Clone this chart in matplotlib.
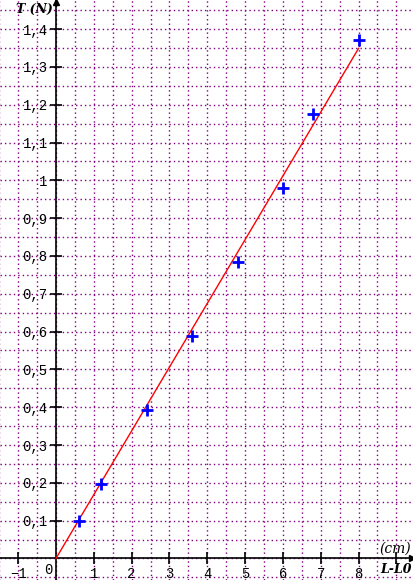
import matplotlib
matplotlib.use("Agg")
import matplotlib.pyplot as plt
import numpy as np

# mesures : allongement (cm) et tension (N)
allongement = [0.6, 1.2, 2.4, 3.6, 4.8, 6.0, 6.8, 8.0]
tension = [0.10, 0.197, 0.392, 0.588, 0.784, 0.98, 1.175, 1.372]

# droite de modélisation
droite_x = [0, 8]
droite_y = [0, 1.349]

xticks = [-1, 1, 2, 3, 4, 5, 6, 7, 8, 9]
xtick_labels = ["\u22121", "1", "2", "3", "4", "5", "6", "7", "8", ""]
yticks = [0.1, 0.2, 0.3, 0.4, 0.5, 0.6, 0.7, 0.8, 0.9, 1.0, 1.1, 1.2, 1.3, 1.4]
ytick_labels = ["0,1", "0,2", "0,3", "0,4", "0,5", "0,6", "0,7", "0,8", "0,9",
                "1", "1,1", "1,2", "1,3", "1,4"]

XMIN, XMAX = -1.48, 9.44
YMIN, YMAX = -0.057, 1.477

fig = plt.figure(figsize=(4.13, 5.80), dpi=100)
ax = fig.add_axes([0, 0, 1, 1])
ax.set_xlim(XMIN, XMAX)
ax.set_ylim(YMIN, YMAX)

# quadrillage pointillé violet
grille = dict(color="#800080", lw=1.0, ls=(0, (1, 2.2)), zorder=0)
for gx in np.arange(-1.5, 9.51, 0.5):
    ax.axvline(gx, **grille)
for gy in np.arange(-0.05, 1.51, 0.05):
    ax.axhline(gy, **grille)

# axes
for s in ["top", "right"]:
    ax.spines[s].set_visible(False)
ax.spines["left"].set_position(("data", 0))
ax.spines["bottom"].set_position(("data", 0))
ax.spines["left"].set_linewidth(1.2)
ax.spines["bottom"].set_linewidth(1.2)
ax.plot(0, YMAX - 0.004, marker="^", color="black", ms=4, clip_on=False, zorder=5)
ax.plot(XMAX - 0.03, 0, marker=">", color="black", ms=4, clip_on=False, zorder=5)

ax.set_xticks(xticks, xtick_labels)
ax.set_yticks(yticks, ytick_labels)
ax.tick_params(direction="inout", length=8, width=1.2, labelsize=10, pad=2)
for lab in ax.get_xticklabels() + ax.get_yticklabels():
    lab.set_family("Liberation Mono")
ax.text(-0.1, -0.012, "0", ha="right", va="top", fontsize=10, family="Liberation Mono")

# droite et points
ax.plot(droite_x, droite_y, color="red", lw=1.0, zorder=3)
ax.plot(allongement, tension, ls="none", marker="+", color="blue",
        ms=8, mew=2, zorder=4)

# titres des axes
ax.text(-0.08, YMAX - 0.008, "T (N)", ha="right", va="top", fontsize=9,
        family="DejaVu Serif", style="italic", weight="bold")
ax.text(9.38, 0.008, "(cm)", ha="right", va="bottom", fontsize=10,
        family="DejaVu Serif", style="italic")
ax.text(XMAX - 0.02, -0.012, "L-L0", ha="right", va="top", fontsize=9,
        family="DejaVu Serif", style="italic", weight="bold")

fig.savefig("out.png", dpi=100)
